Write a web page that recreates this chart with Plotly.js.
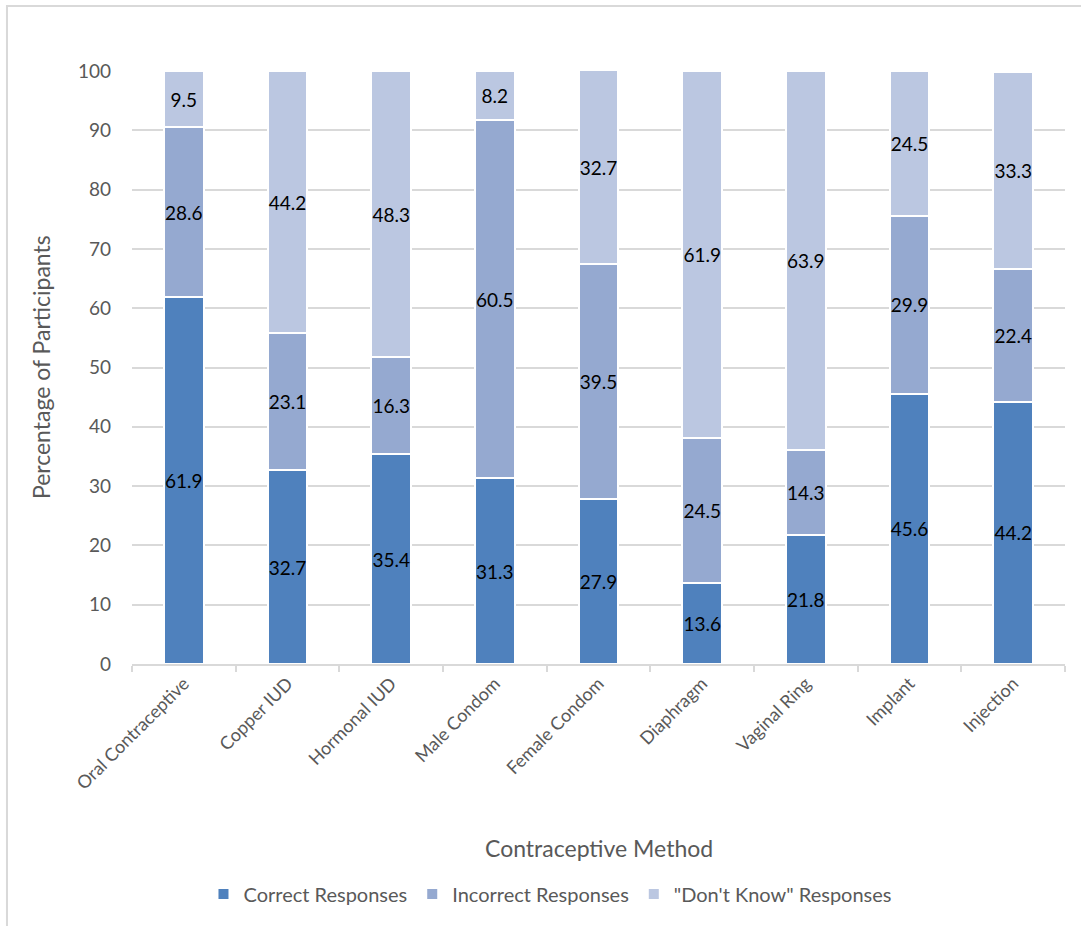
<!DOCTYPE html>
<html>
<head>
<meta charset="utf-8">
<script src="https://cdn.plot.ly/plotly-3.0.1.min.js"></script>
<style>
  html, body { margin: 0; padding: 0; background: #fff; }
  #chart { width: 1081px; height: 926px; }
</style>
</head>
<body>
<div id="chart"></div>
<script>
// Contraceptive methods on the category axis
const methods = [
  "Oral Contraceptive", "Copper IUD", "Hormonal IUD", "Male Condom",
  "Female Condom", "Diaphragm", "Vaginal Ring", "Implant", "Injection"
];

// Percentage of participants per response type
const correct   = [61.9, 32.7, 35.4, 31.3, 27.9, 13.6, 21.8, 45.6, 44.2];
const incorrect = [28.6, 23.1, 16.3, 60.5, 39.5, 24.5, 14.3, 29.9, 22.4];
const dontKnow  = [9.5, 44.2, 48.3, 8.2, 32.7, 61.9, 63.9, 24.5, 33.3];

const seriesNames = ["Correct Responses", "Incorrect Responses", "\"Don't Know\" Responses"];
const seriesColors = ["#4f81bd", "#95a9d0", "#bbc7e1"];

const FONT = "Lato, 'Open Sans', sans-serif";
const GRAY = "#595959";

const traces = [correct, incorrect, dontKnow].map((vals, i) => ({
  type: "bar",
  name: seriesNames[i],
  x: methods,
  y: vals,
  text: vals.map(v => v.toFixed(1)),
  textposition: "inside",
  insidetextanchor: "middle",
  textangle: 0,
  textfont: { family: FONT, size: 19, color: "#000" },
  constraintext: "none",
  marker: { color: seriesColors[i], line: { color: "#ffffff", width: 2 } },
  hoverinfo: "x+y+name"
}));

const layout = {
  width: 1081,
  height: 926,
  paper_bgcolor: "#ffffff",
  plot_bgcolor: "#ffffff",
  barmode: "stack",
  bargap: 0.62,
  margin: { l: 132, r: 16, t: 71, b: 262 },
  font: { family: FONT, color: GRAY, size: 16 },
  xaxis: {
    type: "category",
    tickangle: -45,
    tickfont: { family: FONT, size: 18, color: GRAY },
    showline: true,
    linecolor: "#d9d9d9",
    linewidth: 2,
    ticks: "outside",
    tickson: "boundaries",
    ticklen: 6,
    tickcolor: "#d9d9d9",
    tickwidth: 2,
    showgrid: false,
    zeroline: false
  },
  yaxis: {
    range: [0, 100],
    dtick: 10,
    tickfont: { family: FONT, size: 19, color: GRAY },
    showgrid: true,
    gridcolor: "#d9d9d9",
    gridwidth: 2,
    zeroline: false,
    showline: false,
    ticks: "",
    ticklabelstandoff: 20
  },
  legend: {
    orientation: "h",
    x: 0.448,
    xanchor: "center",
    y: -0.388,
    yanchor: "middle",
    font: { family: FONT, size: 20, color: GRAY },
    traceorder: "normal",
    itemwidth: 30
  },
  annotations: [
    {
      text: "Contraceptive Method",
      xref: "paper", yref: "paper",
      x: 0.5, y: -0.311, xanchor: "center", yanchor: "middle",
      showarrow: false,
      font: { family: FONT, size: 23, color: GRAY }
    },
    {
      text: "Percentage of Participants",
      xref: "paper", yref: "paper",
      x: -0.098, y: 0.5, xanchor: "center", yanchor: "middle",
      textangle: -90,
      showarrow: false,
      font: { family: FONT, size: 23, color: GRAY }
    }
  ],
  shapes: [
    {
      type: "rect",
      xref: "paper", yref: "paper",
      x0: -0.134, x1: 1.1, y0: -0.6, y1: 1.1096,
      line: { color: "#d9d9d9", width: 2 },
      fillcolor: "rgba(0,0,0,0)",
      layer: "below"
    }
  ]
};

Plotly.newPlot("chart", traces, layout, { displayModeBar: false, staticPlot: true });
</script>
</body>
</html>
